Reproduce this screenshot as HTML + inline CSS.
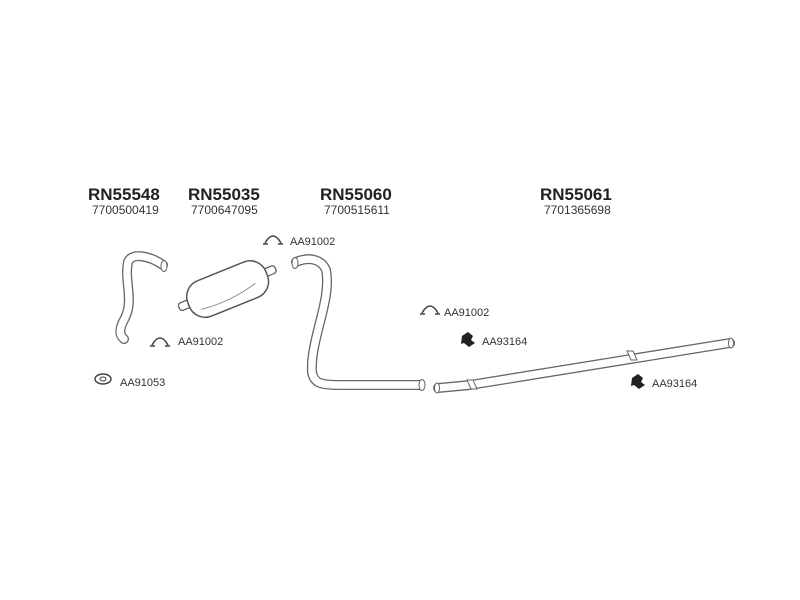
<!DOCTYPE html>
<html><head><meta charset="utf-8"><style>
html,body{margin:0;padding:0;background:#fff}
svg{display:block}
text{font-family:"Liberation Sans",Arial,sans-serif;fill:#333}
.t{font-size:17px;font-weight:bold;fill:#222}
.n{font-size:12px}
.l{font-size:11px}
.po{fill:none;stroke:#666;stroke-width:10;stroke-linecap:round;stroke-linejoin:round}
.pi{fill:none;stroke:#fff;stroke-width:7.4;stroke-linecap:round;stroke-linejoin:round}
</style></head><body>
<svg width="800" height="600" viewBox="0 0 800 600">
<text class="t" x="88" y="200">RN55548</text>
<text class="n" x="92" y="214">7700500419</text>
<text class="t" x="188" y="200">RN55035</text>
<text class="n" x="191" y="214">7700647095</text>
<text class="t" x="320" y="200">RN55060</text>
<text class="n" x="324" y="214">7700515611</text>
<text class="t" x="540" y="200">RN55061</text>
<text class="n" x="544" y="214">7701365698</text>

<!-- pipe 1 -->
<path class="po" d="M163,265 C150,256 132,252 128,262 C124,280 134,300 125,318 C118,330 120,336 124,339"/>
<path class="pi" d="M163,265 C150,256 132,252 128,262 C124,280 134,300 125,318 C118,330 120,336 124,339"/>
<ellipse cx="164" cy="266" rx="3" ry="5.5" fill="#fff" stroke="#666" stroke-width="1"/>

<!-- muffler -->
<g transform="rotate(-22 228 290)">
<rect x="176" y="284" width="14" height="8" rx="3" fill="#fff" stroke="#555" stroke-width="1.2"/>
<rect x="266" y="284" width="14" height="8" rx="3" fill="#fff" stroke="#555" stroke-width="1.2"/>
<rect x="186" y="270" width="84" height="38" rx="17" fill="#fff" stroke="#555" stroke-width="1.5"/>
<path d="M196,298 q30,4 60,-4" fill="none" stroke="#888" stroke-width="1"/>
</g>

<!-- pipe RN55060 -->
<path class="po" d="M296,262 C310,256 322,260 326,270 C332,300 310,340 312,372 C314,384 322,385 340,385 L420,385"/>
<path class="pi" d="M296,262 C310,256 322,260 326,270 C332,300 310,340 312,372 C314,384 322,385 340,385 L420,385"/>
<ellipse cx="295" cy="263" rx="3" ry="5.5" fill="#fff" stroke="#666" stroke-width="1"/>
<ellipse cx="422" cy="385" rx="3" ry="5.5" fill="#fff" stroke="#666" stroke-width="1"/>

<!-- pipe RN55061 -->
<path class="po" d="M438,388 L470,385 L730,343"/>
<path class="pi" d="M438,388 L470,385 L730,343"/>
<ellipse cx="437" cy="388" rx="2.5" ry="5" fill="#fff" stroke="#666" stroke-width="1"/>
<ellipse cx="731" cy="343" rx="2.5" ry="5" fill="#fff" stroke="#666" stroke-width="1"/>
<path d="M467,380 l6,0 l4,9 l-6,0z M627,351 l6,0 l4,9 l-6,0z" fill="#fff" stroke="#666" stroke-width="1"/>

<!-- clamps -->
<path d="M265,243 q8,-14 16,0 M263,244 h5 M278,244 h5" fill="none" stroke="#444" stroke-width="1.6"/>
<path d="M152,345 q8,-14 16,0 M150,346 h5 M165,346 h5" fill="none" stroke="#444" stroke-width="1.6"/>
<path d="M422,313 q8,-14 16,0 M420,314 h5 M435,314 h5" fill="none" stroke="#444" stroke-width="1.6"/>
<ellipse cx="103" cy="379" rx="8" ry="5" fill="#fff" stroke="#444" stroke-width="1.5"/>
<ellipse cx="103" cy="379" rx="3" ry="2" fill="none" stroke="#444" stroke-width="1"/>
<path d="M462,336 l6,-4 l5,4 l-2,4 l4,3 l-6,4 l-5,-4 l-3,1 z" fill="#222"/>
<path d="M632,378 l6,-4 l5,4 l-2,4 l4,3 l-6,4 l-5,-4 l-3,1 z" fill="#222"/>

<text class="l" x="290" y="245">AA91002</text>
<text class="l" x="178" y="345">AA91002</text>
<text class="l" x="444" y="316">AA91002</text>
<text class="l" x="120" y="386">AA91053</text>
<text class="l" x="482" y="345">AA93164</text>
<text class="l" x="652" y="387">AA93164</text>
</svg>
</body></html>
